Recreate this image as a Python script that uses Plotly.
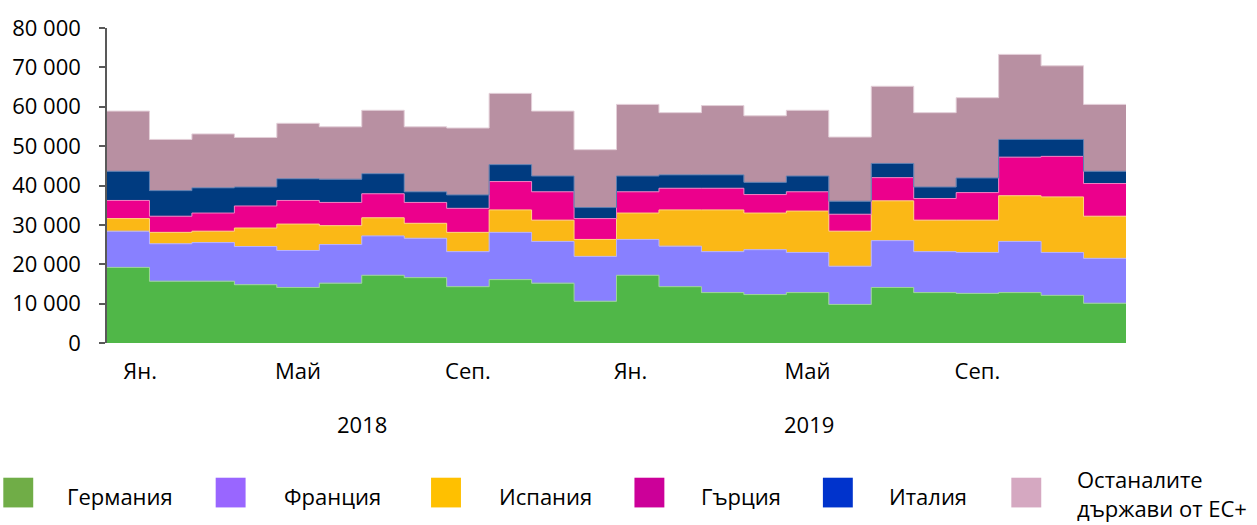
import plotly.graph_objects as go

# ---------------- data ----------------
months_2018_2019 = list(range(24))  # Jan 2018 ... Dec 2019
germany = [19200, 15700, 15700, 14800, 14100, 15200, 17200, 16600, 14300, 16100, 15200, 10600,
           17200, 14300, 12800, 12300, 12800, 9800, 14100, 12800, 12600, 12800, 12100, 10100]
france = [9200, 9500, 9800, 9700, 9400, 9800, 10000, 10000, 8900, 12000, 10600, 11400,
          9100, 10300, 10400, 11400, 10200, 9700, 11900, 10400, 10400, 13000, 10900, 11400]
spain = [3200, 2900, 2900, 4700, 6700, 4800, 4600, 3800, 4900, 5700, 5400, 4300,
         6700, 9200, 10600, 9300, 10500, 8900, 10100, 8000, 8200, 11600, 14100, 10700]
greece = [4600, 4100, 4600, 5600, 6000, 5900, 6100, 5300, 6100, 7200, 7200, 5300,
          5400, 5500, 5500, 4700, 4900, 4300, 5900, 5500, 7000, 9800, 10300, 8300]
italy = [7400, 6500, 6400, 4800, 5500, 5900, 5100, 2700, 3400, 4300, 4000, 2800,
         4000, 3400, 3400, 3100, 4000, 3300, 3600, 2900, 3700, 4500, 4300, 3100]
others = [15300, 13000, 13700, 12600, 14100, 13300, 16100, 16500, 17000, 18100, 16500, 14700,
          18200, 15800, 17600, 16900, 16700, 16300, 19600, 18900, 20400, 21600, 18700, 17000]

series_names = ["Германия", "Франция", "Испания", "Гърция", "Италия", "Останалите\nдържави от ЕС+"]
series_values = [germany, france, spain, greece, italy, others]
fill_colors = ["#50B748", "#8880FF", "#FBB816", "#EC008C", "#003B80", "#B890A2"]
edge_colors = ["#9BD596", "#B6B1FF", "#FDD57A", "#F47DC0", "#5A7DB0", "#E3CFD8"]
legend_colors = ["#70AD47", "#9966FF", "#FFC000", "#CC0099", "#0033CC", "#D5A8C1"]

month_labels = ["Ян.", "Май", "Сеп.", "Ян.", "Май", "Сеп."]
month_label_pos = [0.78, 4.5, 8.5, 12.33, 16.5, 20.5]
year_labels = ["2018", "2019"]
year_label_pos = [6.0, 16.53]

y_ticks = [0, 10000, 20000, 30000, 40000, 50000, 60000, 70000, 80000]
y_ticktext = [f"{v:,}".replace(",", " ") for v in y_ticks]

# ---------------- layout geometry ----------------
W, H = 1257, 525
ML, MR, MT, MB = 104, 131, 25, 182
PW, PH = W - ML - MR, H - MT - MB
FONT = "Open Sans"
FS = 22


def px(xp):
    return (xp - ML) / PW


def py(yp):
    return (H - MB - yp) / PH


fig = go.Figure()
xs = list(range(len(months_2018_2019) + 1))
for name, vals, fc, ec in zip(series_names, series_values, fill_colors, edge_colors):
    fig.add_trace(go.Scatter(
        x=xs, y=vals + [vals[-1]], mode="lines", stackgroup="one",
        line=dict(shape="hv", width=1, color=ec), fillcolor=fc,
        name=name.replace("\n", " "), showlegend=False, hoverinfo="skip"))

shapes = []
annotations = []
# manual legend
leg_sq_x = [0, 213, 429, 633, 822, 1011]
leg_txt_x = [63, 281, 496, 699, 887, 1076]
for i, (name, col) in enumerate(zip(series_names, legend_colors)):
    x0 = leg_sq_x[i]
    shapes.append(dict(type="rect", xref="paper", yref="paper",
                       x0=px(x0), x1=px(x0 + 30), y0=py(509), y1=py(479),
                       fillcolor=col, line=dict(width=0)))
    lines = name.split("\n")
    if len(lines) == 1:
        ys = [497]
    else:
        ys = [480, 510]
    for line_text, yy in zip(lines, ys):
        annotations.append(dict(x=px(leg_txt_x[i]), y=py(yy), xref="paper", yref="paper",
                                text=line_text, showarrow=False, xanchor="left", yanchor="middle",
                                align="left", borderpad=0,
                                font=dict(family=FONT, size=FS, color="#000000")))

for lab, pos in zip(year_labels, year_label_pos):
    annotations.append(dict(x=pos, y=py(425), xref="x", yref="paper", text=lab,
                            showarrow=False, xanchor="center", yanchor="middle",
                            font=dict(family=FONT, size=FS, color="#000000")))

fig.update_layout(
    width=W, height=H, margin=dict(l=ML, r=MR, t=MT, b=MB),
    paper_bgcolor="white", plot_bgcolor="white",
    font=dict(family=FONT, size=FS, color="#000000"),
    shapes=shapes, annotations=annotations, showlegend=False,
    xaxis=dict(range=[0, 24], showgrid=False, zeroline=False, showline=False,
               tickvals=month_label_pos, ticktext=month_labels, ticks="",
               ticklabelstandoff=13, tickfont=dict(family=FONT, size=FS)),
    yaxis=dict(range=[0, 80000], showgrid=False, zeroline=False, showline=True,
               linecolor="#595959", linewidth=1.5, ticks="outside", ticklen=6,
               tickwidth=1.5, tickcolor="#595959", tickvals=y_ticks, ticktext=y_ticktext,
               ticklabelstandoff=14, tickfont=dict(family=FONT, size=FS)),
)

fig.write_html("out.html", config={"displayModeBar": False},
               post_script="document.body.style.margin='0';document.body.style.padding='0';")
